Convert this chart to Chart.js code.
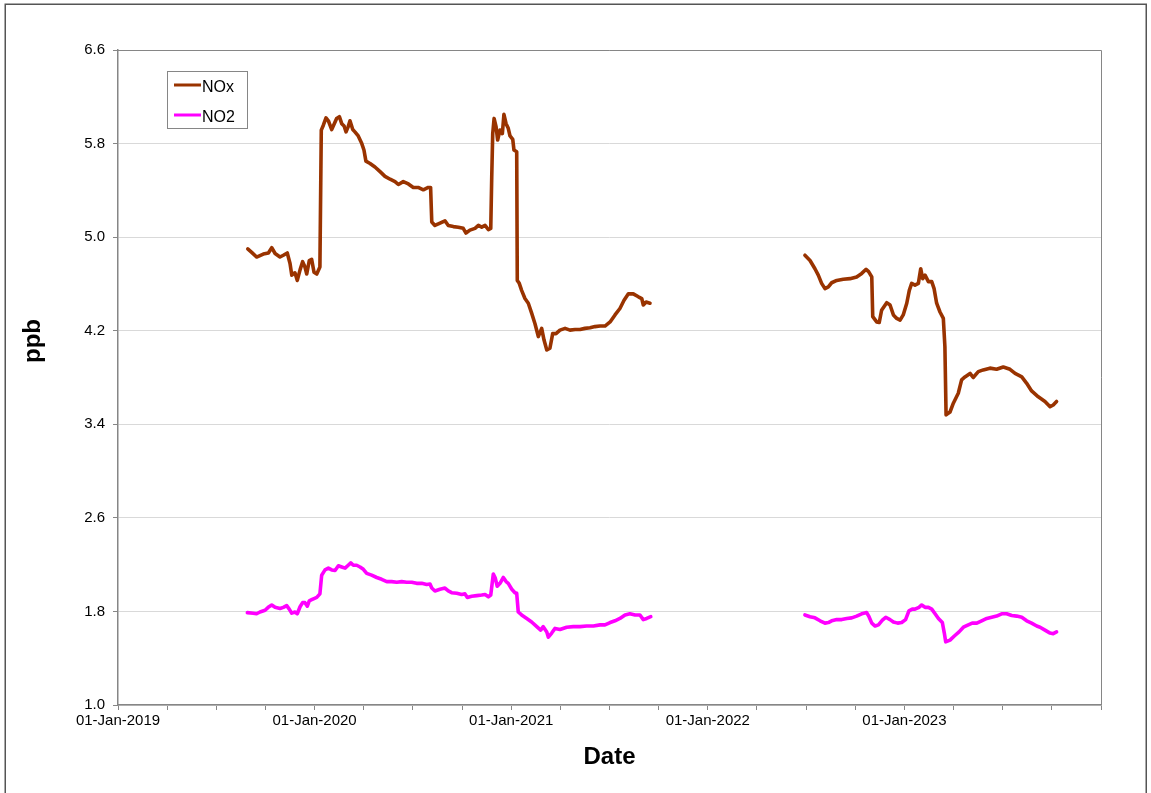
<!DOCTYPE html>
<html>
<head>
<meta charset="utf-8">
<title>NOx and NO2 (ppb)</title>
<script src="https://cdn.jsdelivr.net/npm/chart.js@4/dist/chart.umd.min.js"></script>
<style>
  html, body { margin: 0; padding: 0; background: #ffffff; }
  #wrap { position: relative; width: 1151px; height: 793px; overflow: hidden; }
  canvas { display: block; }
</style>
</head>
<body>
<div id="wrap"><canvas id="chart" width="1151" height="793"></canvas></div>
<script>
// Dates are decimal years (e.g. 2020.5 = early July 2020); values in ppb.

// NOx, first monitoring period
const noxYears1 = [
  2019.660, 2019.680, 2019.705, 2019.739, 2019.765, 2019.782, 2019.799, 2019.824, 2019.841, 2019.861,
  2019.875, 2019.884, 2019.900, 2019.912, 2019.926, 2019.939, 2019.951, 2019.960, 2019.973, 2019.985,
  2019.997, 2020.011, 2020.027, 2020.034, 2020.044, 2020.058, 2020.070, 2020.087, 2020.099, 2020.112,
  2020.126, 2020.138, 2020.150, 2020.160, 2020.171, 2020.180, 2020.194, 2020.205, 2020.222, 2020.240,
  2020.251, 2020.261, 2020.282, 2020.307, 2020.333, 2020.358, 2020.384, 2020.409, 2020.426, 2020.451,
  2020.477, 2020.502, 2020.527, 2020.553, 2020.578, 2020.590, 2020.596, 2020.612, 2020.638, 2020.663,
  2020.680, 2020.706, 2020.731, 2020.756, 2020.770, 2020.790, 2020.816, 2020.833, 2020.850, 2020.867,
  2020.884, 2020.896, 2020.901, 2020.906, 2020.913, 2020.923, 2020.931, 2020.943, 2020.955, 2020.963,
  2020.974, 2020.985, 2020.994, 2021.008, 2021.014, 2021.028, 2021.031, 2021.041, 2021.053, 2021.070,
  2021.087, 2021.104, 2021.121, 2021.138, 2021.155, 2021.167, 2021.181, 2021.197, 2021.211, 2021.228,
  2021.248, 2021.274, 2021.299, 2021.325, 2021.350, 2021.375, 2021.401, 2021.426, 2021.452, 2021.477,
  2021.503, 2021.528, 2021.553, 2021.574, 2021.596, 2021.621, 2021.647, 2021.664, 2021.672, 2021.686,
  2021.706
];
const noxPpb1 = [
  4.900, 4.870, 4.830, 4.855, 4.865, 4.910, 4.860, 4.830, 4.845, 4.865,
  4.775, 4.675, 4.695, 4.630, 4.720, 4.790, 4.745, 4.685, 4.800, 4.810,
  4.700, 4.685, 4.745, 5.915, 5.955, 6.020, 5.995, 5.920, 5.965, 6.015,
  6.030, 5.970, 5.950, 5.900, 5.945, 5.995, 5.920, 5.900, 5.865, 5.800,
  5.745, 5.650, 5.630, 5.600, 5.560, 5.520, 5.495, 5.475, 5.450, 5.475,
  5.455, 5.425, 5.425, 5.405, 5.425, 5.425, 5.130, 5.100, 5.120, 5.140,
  5.100, 5.090, 5.085, 5.075, 5.035, 5.060, 5.075, 5.100, 5.085, 5.100,
  5.065, 5.075, 5.515, 5.885, 6.015, 5.945, 5.830, 5.915, 5.885, 6.050,
  5.970, 5.930, 5.865, 5.835, 5.745, 5.730, 4.630, 4.605, 4.545, 4.475,
  4.435, 4.350, 4.260, 4.150, 4.220, 4.120, 4.035, 4.050, 4.175, 4.175,
  4.205, 4.220, 4.205, 4.210, 4.210, 4.220, 4.225, 4.235, 4.240, 4.240,
  4.275, 4.335, 4.390, 4.460, 4.515, 4.515, 4.490, 4.475, 4.420, 4.445,
  4.435
];

// NOx, second monitoring period
const noxYears2 = [
  2022.494, 2022.520, 2022.545, 2022.562, 2022.579, 2022.596, 2022.613, 2022.630, 2022.656, 2022.689,
  2022.723, 2022.757, 2022.783, 2022.805, 2022.818, 2022.834, 2022.839, 2022.859, 2022.872, 2022.884,
  2022.910, 2022.927, 2022.944, 2022.961, 2022.978, 2022.994, 2023.012, 2023.025, 2023.037, 2023.054,
  2023.071, 2023.083, 2023.093, 2023.105, 2023.122, 2023.139, 2023.151, 2023.164, 2023.181, 2023.198,
  2023.206, 2023.212, 2023.232, 2023.249, 2023.274, 2023.291, 2023.308, 2023.334, 2023.350, 2023.376,
  2023.401, 2023.435, 2023.469, 2023.503, 2023.537, 2023.563, 2023.597, 2023.622, 2023.647, 2023.681,
  2023.715, 2023.741, 2023.757, 2023.774
];
const noxPpb2 = [
  4.845, 4.800, 4.730, 4.675, 4.605, 4.560, 4.575, 4.610, 4.630, 4.640,
  4.645, 4.660, 4.690, 4.725, 4.705, 4.660, 4.320, 4.275, 4.270, 4.375,
  4.440, 4.420, 4.335, 4.305, 4.290, 4.335, 4.435, 4.545, 4.605, 4.590,
  4.605, 4.730, 4.645, 4.675, 4.620, 4.620, 4.560, 4.435, 4.360, 4.305,
  4.065, 3.480, 3.505, 3.580, 3.665, 3.780, 3.805, 3.835, 3.800, 3.850,
  3.865, 3.880, 3.870, 3.890, 3.870, 3.835, 3.805, 3.750, 3.685, 3.635,
  3.595, 3.550, 3.565, 3.595
];

// NO2, first monitoring period
const no2Years1 = [
  2019.658, 2019.688, 2019.705, 2019.722, 2019.748, 2019.764, 2019.782, 2019.799, 2019.824, 2019.841,
  2019.858, 2019.871, 2019.884, 2019.900, 2019.912, 2019.926, 2019.939, 2019.951, 2019.963, 2019.973,
  2019.985, 2019.997, 2020.011, 2020.027, 2020.036, 2020.053, 2020.070, 2020.087, 2020.104, 2020.121,
  2020.138, 2020.155, 2020.171, 2020.184, 2020.197, 2020.214, 2020.231, 2020.248, 2020.265, 2020.290,
  2020.316, 2020.341, 2020.367, 2020.392, 2020.418, 2020.443, 2020.468, 2020.494, 2020.519, 2020.545,
  2020.570, 2020.587, 2020.596, 2020.612, 2020.638, 2020.663, 2020.680, 2020.697, 2020.723, 2020.748,
  2020.765, 2020.777, 2020.799, 2020.825, 2020.850, 2020.867, 2020.884, 2020.896, 2020.909, 2020.919,
  2020.929, 2020.943, 2020.960, 2020.974, 2020.985, 2021.003, 2021.019, 2021.028, 2021.036, 2021.053,
  2021.079, 2021.104, 2021.130, 2021.150, 2021.163, 2021.181, 2021.189, 2021.206, 2021.223, 2021.248,
  2021.282, 2021.316, 2021.350, 2021.384, 2021.418, 2021.452, 2021.477, 2021.503, 2021.528, 2021.553,
  2021.579, 2021.604, 2021.630, 2021.655, 2021.672, 2021.689, 2021.710
];
const no2Ppb1 = [
  1.790, 1.785, 1.780, 1.795, 1.810, 1.835, 1.855, 1.835, 1.825, 1.835,
  1.850, 1.820, 1.785, 1.795, 1.780, 1.840, 1.875, 1.875, 1.845, 1.890,
  1.900, 1.910, 1.920, 1.950, 2.110, 2.155, 2.170, 2.155, 2.150, 2.190,
  2.180, 2.170, 2.195, 2.215, 2.195, 2.195, 2.180, 2.160, 2.125, 2.110,
  2.090, 2.075, 2.055, 2.055, 2.050, 2.055, 2.050, 2.050, 2.040, 2.040,
  2.030, 2.035, 2.000, 1.975, 1.990, 2.000, 1.975, 1.960, 1.955, 1.945,
  1.950, 1.920, 1.930, 1.935, 1.940, 1.945, 1.925, 1.940, 2.120, 2.085,
  2.015, 2.040, 2.090, 2.055, 2.040, 1.990, 1.960, 1.955, 1.795, 1.770,
  1.740, 1.710, 1.670, 1.640, 1.670, 1.625, 1.580, 1.615, 1.655, 1.645,
  1.665, 1.670, 1.670, 1.675, 1.675, 1.685, 1.685, 1.705, 1.720, 1.740,
  1.770, 1.780, 1.770, 1.770, 1.730, 1.740, 1.755
];

// NO2, second monitoring period
const no2Years2 = [
  2022.494, 2022.520, 2022.545, 2022.571, 2022.596, 2022.613, 2022.630, 2022.656, 2022.681, 2022.707,
  2022.732, 2022.757, 2022.783, 2022.808, 2022.820, 2022.834, 2022.851, 2022.868, 2022.888, 2022.905,
  2022.927, 2022.944, 2022.966, 2022.986, 2023.006, 2023.023, 2023.040, 2023.054, 2023.074, 2023.088,
  2023.105, 2023.122, 2023.139, 2023.156, 2023.173, 2023.193, 2023.203, 2023.210, 2023.232, 2023.254,
  2023.278, 2023.300, 2023.325, 2023.345, 2023.368, 2023.393, 2023.419, 2023.444, 2023.469, 2023.495,
  2023.520, 2023.546, 2023.571, 2023.597, 2023.622, 2023.647, 2023.673, 2023.690, 2023.715, 2023.741,
  2023.757, 2023.774
];
const no2Ppb2 = [
  1.770, 1.755, 1.745, 1.720, 1.700, 1.705, 1.720, 1.730, 1.730, 1.740,
  1.745, 1.760, 1.780, 1.790, 1.755, 1.700, 1.675, 1.685, 1.725, 1.750,
  1.730, 1.710, 1.700, 1.705, 1.730, 1.805, 1.820, 1.820, 1.835, 1.855,
  1.835, 1.835, 1.820, 1.780, 1.740, 1.705, 1.615, 1.540, 1.555, 1.590,
  1.625, 1.665, 1.685, 1.700, 1.700, 1.720, 1.740, 1.750, 1.760, 1.780,
  1.780, 1.765, 1.760, 1.750, 1.720, 1.700, 1.675, 1.665, 1.640, 1.615,
  1.610, 1.625
];

// Axis ticks
const xTickYears = [2019, 2020, 2021, 2022, 2023];
const xTickLabels = ['01-Jan-2019', '01-Jan-2020', '01-Jan-2021', '01-Jan-2022', '01-Jan-2023'];
const yTickValues = [1.0, 1.8, 2.6, 3.4, 4.2, 5.0, 5.8, 6.6];

const seriesNames = ['NOx', 'NO2'];
const seriesColors = ['#993300', '#ff00ff'];

// Join two monitoring periods into one point list, with a gap between them.
function joinPeriods(xa, ya, xb, yb) {
  const pts = xa.map((x, i) => ({ x: x, y: ya[i] }));
  pts.push({ x: (xa[xa.length - 1] + xb[0]) / 2, y: null });
  xb.forEach((x, i) => pts.push({ x: x, y: yb[i] }));
  return pts;
}

const FONT = "'Liberation Sans', Arial, Helvetica, sans-serif";
const AXIS_GREY = '#868686';

// Quarter-year minor ticks on the date axis
const xMin = 2019, xMax = 2024;
const quarterTicks = [];
for (let i = 0; i <= (xMax - xMin) * 4; i++) quarterTicks.push(xMin + i / 4);

const decor = {
  id: 'decor',
  afterDraw(chart) {
    const { ctx, chartArea: a } = chart;
    ctx.save();

    // plot frame (top and right edges)
    ctx.strokeStyle = AXIS_GREY;
    ctx.lineWidth = 1;
    ctx.beginPath();
    ctx.moveTo(a.left, Math.round(a.top) + 0.5);
    ctx.lineTo(Math.round(a.right) + 0.5, Math.round(a.top) + 0.5);
    ctx.lineTo(Math.round(a.right) + 0.5, a.bottom);
    ctx.stroke();

    // outer frame
    ctx.strokeStyle = '#555555';
    ctx.lineWidth = 1.5;
    ctx.strokeRect(5.25, 4.25, 1141, 820);

    // legend box
    const lx = 167.5, ly = 71.5, lw = 80, lh = 57;
    ctx.fillStyle = '#ffffff';
    ctx.fillRect(lx, ly, lw, lh);
    ctx.strokeStyle = AXIS_GREY;
    ctx.lineWidth = 1;
    ctx.strokeRect(lx, ly, lw, lh);
    ctx.font = '16px ' + FONT;
    ctx.textBaseline = 'alphabetic';
    ctx.textAlign = 'left';
    chart.data.datasets.forEach((ds, i) => {
      const y = 85 + i * 30;
      ctx.strokeStyle = ds.borderColor;
      ctx.lineWidth = 3;
      ctx.lineCap = 'butt';
      ctx.beginPath();
      ctx.moveTo(174, y);
      ctx.lineTo(201, y);
      ctx.stroke();
      ctx.fillStyle = '#000000';
      ctx.fillText(ds.label, 202, y + 7);
    });

    // axis titles
    ctx.fillStyle = '#000000';
    ctx.font = 'bold 24px ' + FONT;
    ctx.textAlign = 'center';
    ctx.textBaseline = 'middle';
    ctx.fillText('Date', (a.left + a.right) / 2, 757);
    ctx.translate(33, 341);
    ctx.rotate(-Math.PI / 2);
    ctx.fillText('ppb', 0, 0);

    ctx.restore();
  }
};

new Chart(document.getElementById('chart'), {
  type: 'line',
  data: {
    datasets: [
      {
        label: seriesNames[0],
        data: joinPeriods(noxYears1, noxPpb1, noxYears2, noxPpb2),
        borderColor: seriesColors[0],
        backgroundColor: seriesColors[0],
        borderWidth: 3.6,
        pointRadius: 0,
        tension: 0,
        spanGaps: false,
        borderJoinStyle: 'round',
        borderCapStyle: 'round'
      },
      {
        label: seriesNames[1],
        data: joinPeriods(no2Years1, no2Ppb1, no2Years2, no2Ppb2),
        borderColor: seriesColors[1],
        backgroundColor: seriesColors[1],
        borderWidth: 3.6,
        pointRadius: 0,
        tension: 0,
        spanGaps: false,
        borderJoinStyle: 'round',
        borderCapStyle: 'round'
      }
    ]
  },
  options: {
    responsive: false,
    animation: false,
    layout: { padding: { left: 0, right: 50, top: 50, bottom: 0 } },
    plugins: {
      legend: { display: false },
      tooltip: { enabled: false },
      title: { display: false }
    },
    scales: {
      x: {
        type: 'linear',
        min: xMin,
        max: xMax,
        afterBuildTicks: (s) => { s.ticks = quarterTicks.map(v => ({ value: v })); },
        afterFit: (s) => { s.height = 88; },
        grid: {
          drawOnChartArea: false,
          drawTicks: true,
          tickLength: 5,
          tickColor: AXIS_GREY,
          tickWidth: 1
        },
        border: { display: true, color: AXIS_GREY, width: 1.5 },
        ticks: {
          autoSkip: false,
          maxRotation: 0,
          minRotation: 0,
          padding: 2,
          color: '#000000',
          font: { family: FONT, size: 15 },
          callback: (v) => {
            const k = xTickYears.findIndex(y => Math.abs(y - v) < 1e-6);
            return k >= 0 ? xTickLabels[k] : '';
          }
        }
      },
      y: {
        type: 'linear',
        min: 1.0,
        max: 6.6,
        afterBuildTicks: (s) => { s.ticks = yTickValues.map(v => ({ value: v })); },
        afterFit: (s) => { s.width = 118; },
        grid: {
          color: '#d9d9d9',
          lineWidth: 1,
          drawTicks: true,
          tickLength: 5,
          tickColor: AXIS_GREY
        },
        border: { display: true, color: AXIS_GREY, width: 1.5 },
        ticks: {
          padding: 8,
          color: '#000000',
          font: { family: FONT, size: 15 },
          callback: (v) => Number(v).toFixed(1)
        }
      }
    }
  },
  plugins: [decor]
});
</script>
</body>
</html>
